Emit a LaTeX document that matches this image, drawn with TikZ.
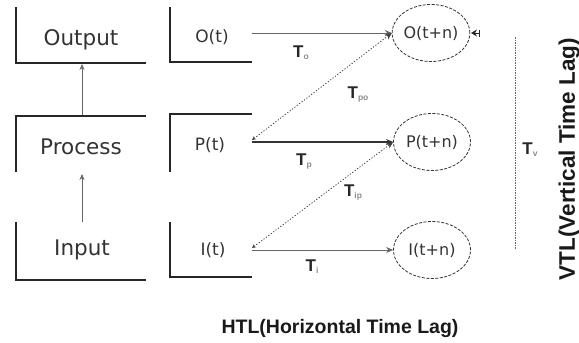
\documentclass[tikz,border=0pt]{standalone}
\usepackage{fontspec}
\setmainfont{DejaVu Sans}
\newfontfamily\lsans{Liberation Sans}
\usetikzlibrary{arrows.meta,shapes.geometric}
\newcommand\Tsub[1]{T\raisebox{-2pt}{\fontsize{8.5}{9}\selectfont\color{black!45}#1}}
\begin{document}
\begin{tikzpicture}[x=1pt,y=-1pt,
  boxline/.style={line width=1.3pt, black!85},
  lbl/.style={font=\fontsize{21.5}{24}\selectfont, text=black!80, inner sep=0},
  sml/.style={font=\fontsize{17}{20}\selectfont, text=black!80, inner sep=0},
  ell/.style={ellipse, draw=black!80, dash pattern=on 3pt off 1.5pt, line width=0.8pt,
    minimum width=77pt, minimum height=57pt, inner sep=0,
    font=\fontsize{16}{19}\selectfont, text=black!80},
  tl/.style={font=\lsans\bfseries\fontsize{17}{20}\selectfont, text=black!85, inner sep=0},
  uparr/.style={draw=black!60, line width=0.6pt, -{Stealth[length=6pt,width=5pt]}},
  harr/.style={draw=black!60, line width=0.9pt, -{Stealth[length=7pt,width=6pt]}},
  parr/.style={draw=black!80, line width=2.4pt, -{Stealth[length=7pt,width=6pt]}},
  dotarr/.style={draw=black!75, line width=0.8pt, dash pattern=on 1.2pt off 1.8pt,
    {Stealth[length=4pt,width=4pt,open]}-{Stealth[length=7pt,width=6pt]}},
  vline/.style={draw=black!60, line width=0.8pt, dash pattern=on 1.5pt off 1pt},
  big/.style={font=\lsans\bfseries\fontsize{19.5}{22}\selectfont, text=black!90, inner sep=0},
]
\useasboundingbox (0,0) rectangle (579,343);

% left column boxes
\draw[boxline] (16,7) -- (16,63) -- (146,63);
\draw[boxline] (16,172) -- (16,116) -- (146,116);
\draw[boxline] (16,222) -- (16,280) -- (146,280);
% second column boxes
\draw[boxline] (170,7) -- (170,62) -- (252,62);
\draw[boxline] (170,172) -- (170,114) -- (252,114);
\draw[boxline] (170,222) -- (170,277) -- (252,277);

% texts
\node[lbl] (out) at (81,40) {Output};
\node[lbl] (proc) at (81,147) {Process};
\node[lbl] (inp) at (82,250) {Input};
\node[sml] (ot) at (212,37) {O(t)};
\node[sml] (pt) at (210,145) {P(t)};
\node[sml] (it) at (213,250) {I(t)};

\node[ell] (otn) at (431,33) {O(t+n)};
\node[ell] (ptn) at (432,142) {P(t+n)};
\node[ell] (itn) at (432,250) {I(t+n)};

% vertical arrows
\coordinate (procTop) at (82,115);
\coordinate (outBot) at (82,64);
\coordinate (inpTop) at (82,222);
\coordinate (procBot) at (82,174);
\draw[uparr] (procTop) -- (outBot);
\draw[uparr] (inpTop) -- (procBot);

% horizontal arrows
\coordinate (os) at (252,33);
\coordinate (ps) at (252,142);
\coordinate (is) at (252,250);
\coordinate (psd) at (252,140);
\coordinate (isd) at (252,248);
\draw[harr] (os) -- (otn.west);
\draw[parr] (ps) -- (ptn.west);
\draw[harr] (is) -- (itn.west);
\draw[dotarr] (psd) -- (otn.west);
\draw[dotarr] (isd) -- (ptn.west);

% small arrow at right of O(t+n)
\coordinate (sa) at (480,33);
\coordinate (sb) at (471,33);
\draw[line width=1pt, black!85, {Bar[width=7pt]}-{Stealth[length=6pt,width=7pt]}] (sa) -- (sb);

% vertical dotted line
\coordinate (vt) at (515,37);
\coordinate (vb) at (515,249);
\draw[vline] (vt) -- (vb);

% time lag labels
\node[tl] (to) at (301,53) {\Tsub{o}};
\node[tl] (tpo) at (358,95) {\Tsub{po}};
\node[tl] (tp) at (304,162) {\Tsub{p}};
\node[tl] (tip) at (353,193) {\Tsub{ip}};
\node[tl] (ti) at (312,267) {\Tsub{i}};
\node[tl] (tv) at (530,150) {\Tsub{v}};

\node[big] (htl) at (340,328) {HTL(Horizontal Time Lag)};
\node[big, rotate=90, font=\lsans\bfseries\fontsize{22.5}{25}\selectfont] (vtl) at (569,159) {VTL(Vertical Time Lag)};
\end{tikzpicture}
\end{document}
